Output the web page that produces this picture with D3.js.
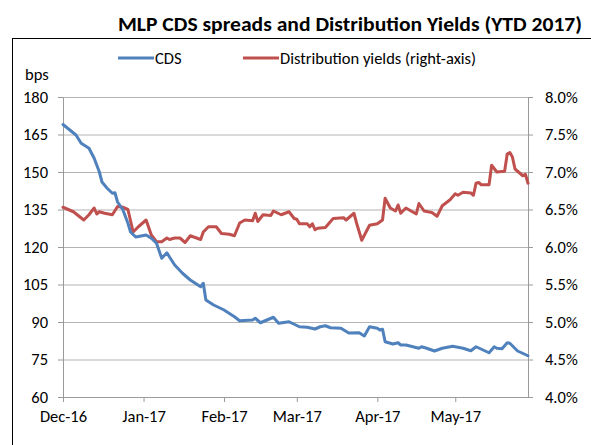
<!DOCTYPE html>
<html>
<head>
<meta charset="utf-8">
<script src="https://cdn.jsdelivr.net/npm/d3@7"></script>
<style>
  body { margin: 0; background: #fff; }
  svg { display: block; }
  text { font-family: Calibri, Carlito, Lato, sans-serif; fill: #000; }
</style>
</head>
<body>
<svg id="chart" width="591" height="445"></svg>
<script>
// MLP CDS spreads (bps, left axis)
const cdsDates = [
  "2016-12-01","2016-12-06","2016-12-08","2016-12-11","2016-12-13","2016-12-15","2016-12-16",
  "2016-12-18","2016-12-20","2016-12-21","2016-12-22","2016-12-24","2016-12-26","2016-12-27",
  "2016-12-29","2017-01-02","2017-01-04","2017-01-06","2017-01-08","2017-01-10","2017-01-11",
  "2017-01-13","2017-01-16","2017-01-19","2017-01-23","2017-01-24","2017-01-25","2017-01-28",
  "2017-02-01","2017-02-05","2017-02-07","2017-02-12","2017-02-13","2017-02-15","2017-02-20",
  "2017-02-22","2017-02-26","2017-03-02","2017-03-05","2017-03-08","2017-03-10","2017-03-12",
  "2017-03-14","2017-03-18","2017-03-21","2017-03-25","2017-03-27","2017-03-29","2017-04-01",
  "2017-04-02","2017-04-03","2017-04-04","2017-04-07","2017-04-09","2017-04-10","2017-04-12",
  "2017-04-17","2017-04-18","2017-04-20","2017-04-23","2017-04-26","2017-04-30","2017-05-02",
  "2017-05-04","2017-05-07","2017-05-09","2017-05-14","2017-05-16","2017-05-17","2017-05-19",
  "2017-05-21","2017-05-22","2017-05-25","2017-05-29"
];
const cdsValues = [
  169, 164.8, 161.5, 159.5, 155.5, 150, 146,
  143.5, 141.5, 141.7, 138, 135, 129.5, 126,
  124, 124.8, 123.5, 121.5, 115.5, 117.7, 116,
  112.8, 109.5, 106.8, 104.1, 105.5, 98.8, 96.8,
  94.8, 92.1, 90.5, 90.8, 91.5, 89.7, 91.9,
  89.5, 90.1, 88.1, 87.9, 87.2, 88.1, 88.5,
  87.7, 87.5, 85.6, 85.7, 84.4, 88.1, 87.5,
  86.8, 87.1, 82.1, 81.2, 81.7, 80.8, 80.8,
  79.5, 80.1, 79.5, 78.4, 79.5, 80.3, 79.9,
  79.5, 78.5, 80.1, 77.7, 80.1, 79.5, 79.3,
  81.7, 81.5, 78.4, 76.5
];

// Distribution yields (%, right axis)
const yieldDates = [
  "2016-12-01","2016-12-05","2016-12-09","2016-12-11","2016-12-13","2016-12-14","2016-12-15",
  "2016-12-17","2016-12-20","2016-12-22","2016-12-24","2016-12-26","2016-12-28","2016-12-30",
  "2017-01-02","2017-01-04","2017-01-06","2017-01-08","2017-01-10","2017-01-11","2017-01-13",
  "2017-01-15","2017-01-17","2017-01-19","2017-01-23","2017-01-24","2017-01-26","2017-01-29",
  "2017-01-31","2017-02-03","2017-02-05","2017-02-07","2017-02-09","2017-02-12","2017-02-13",
  "2017-02-14","2017-02-16","2017-02-19","2017-02-20","2017-02-23","2017-02-26","2017-02-28",
  "2017-03-01","2017-03-02","2017-03-05","2017-03-06","2017-03-07","2017-03-08","2017-03-09",
  "2017-03-12","2017-03-15","2017-03-19","2017-03-20","2017-03-23","2017-03-24","2017-03-26",
  "2017-03-29","2017-04-01","2017-04-03","2017-04-04","2017-04-06","2017-04-08","2017-04-09",
  "2017-04-10","2017-04-12","2017-04-15","2017-04-16","2017-04-17","2017-04-19","2017-04-22",
  "2017-04-24","2017-04-26","2017-04-29","2017-05-01","2017-05-02","2017-05-04","2017-05-07",
  "2017-05-08","2017-05-09","2017-05-10","2017-05-11","2017-05-14","2017-05-15","2017-05-17",
  "2017-05-20","2017-05-21","2017-05-22","2017-05-23","2017-05-24","2017-05-27","2017-05-28",
  "2017-05-29"
];
const yieldValues = [
  6.53, 6.47, 6.36, 6.43, 6.52, 6.44, 6.47,
  6.45, 6.43, 6.54, 6.53, 6.50, 6.20, 6.27,
  6.36, 6.16, 6.07, 6.07, 6.12, 6.10, 6.12,
  6.12, 6.06, 6.15, 6.10, 6.20, 6.27, 6.27,
  6.18, 6.17, 6.15, 6.32, 6.36, 6.35, 6.45,
  6.34, 6.43, 6.42, 6.48, 6.43, 6.47, 6.38,
  6.37, 6.31, 6.31, 6.27, 6.31, 6.23, 6.25,
  6.26, 6.38, 6.39, 6.36, 6.45, 6.32, 6.09,
  6.29, 6.31, 6.36, 6.65, 6.52, 6.48, 6.56,
  6.45, 6.52, 6.46, 6.44, 6.58, 6.48, 6.46,
  6.41, 6.55, 6.63, 6.71, 6.69, 6.73, 6.72,
  6.69, 6.85, 6.86, 6.83, 6.83, 7.09, 7.00,
  7.01, 7.24, 7.26, 7.20, 7.04, 6.95, 6.97,
  6.85
];

const leftTicks = [60, 75, 90, 105, 120, 135, 150, 165, 180];
const rightTicks = [4.0, 4.5, 5.0, 5.5, 6.0, 6.5, 7.0, 7.5, 8.0];
const monthTicks = ["2016-12-01","2017-01-01","2017-02-01","2017-03-01","2017-04-01","2017-05-01"];

const parse = d3.timeParse("%Y-%m-%d");
const svg = d3.select("#chart");

const plot = { left: 63, right: 528, top: 97, bottom: 397 };
const fontSize = 16.5;
const fontFamily = "Calibri, Carlito, Lato, sans-serif";

const x = d3.scaleTime()
  .domain([parse("2016-12-01"), parse("2017-05-29")])
  .range([plot.left, plot.right]);
const yLeft = d3.scaleLinear().domain([60, 180]).range([plot.bottom, plot.top]);
const yRight = d3.scaleLinear().domain([4, 8]).range([plot.bottom, plot.top]);

const gridColor = "#b4b4b4";
const axisColor = "#9a9a9a";

// outer frame
svg.append("rect")
  .attr("x", 12.5).attr("y", 38.5)
  .attr("width", 640).attr("height", 460)
  .attr("fill", "none").attr("stroke", "#000").attr("stroke-width", 1);

// title
svg.append("text")
  .attr("x", 350).attr("y", 31)
  .attr("text-anchor", "middle")
  .attr("font-size", 20).attr("font-weight", "bold")
  .attr("textLength", 464).attr("lengthAdjust", "spacingAndGlyphs")
  .text("MLP CDS spreads and Distribution Yields (YTD 2017)");

// horizontal gridlines
svg.append("g")
  .attr("transform", `translate(${plot.left},0)`)
  .call(d3.axisLeft(yLeft).tickValues(leftTicks).tickSize(-(plot.right - plot.left)).tickFormat(""))
  .call(g => g.select(".domain").remove())
  .call(g => g.selectAll("line").attr("stroke", gridColor).attr("stroke-width", 1.2));

function styleAxis(g) {
  g.select(".domain").attr("stroke", axisColor);
  g.selectAll(".tick line").attr("stroke", axisColor);
  g.selectAll(".tick text").attr("font-size", fontSize).attr("fill", "#000")
    .style("font-family", fontFamily);
}

// left axis
svg.append("g")
  .attr("transform", `translate(${plot.left},0)`)
  .call(d3.axisLeft(yLeft).tickValues(leftTicks).tickSize(5).tickSizeOuter(0).tickPadding(10))
  .call(styleAxis);

// right axis
svg.append("g")
  .attr("transform", `translate(${plot.right},0)`)
  .call(d3.axisRight(yRight).tickValues(rightTicks).tickSize(5).tickSizeOuter(0).tickPadding(12)
    .tickFormat(d => d.toFixed(1) + "%"))
  .call(styleAxis);

// bottom axis
svg.append("g")
  .attr("transform", `translate(0,${plot.bottom})`)
  .call(d3.axisBottom(x).tickValues(monthTicks.map(parse)).tickSize(5).tickSizeOuter(0).tickPadding(8)
    .tickFormat(d3.timeFormat("%b-%y")))
  .call(styleAxis);

// unit label
svg.append("text").attr("x", 25).attr("y", 80).attr("font-size", fontSize).text("bps");

// series
const cdsData = cdsDates.map((d, i) => ({ date: parse(d), value: cdsValues[i] }));
const yieldData = yieldDates.map((d, i) => ({ date: parse(d), value: yieldValues[i] }));

svg.append("path")
  .datum(yieldData)
  .attr("fill", "none").attr("stroke", "#c0504d").attr("stroke-width", 3)
  .attr("stroke-linejoin", "round").attr("stroke-linecap", "round")
  .attr("d", d3.line().x(d => x(d.date)).y(d => yRight(d.value)));

svg.append("path")
  .datum(cdsData)
  .attr("fill", "none").attr("stroke", "#4f81bd").attr("stroke-width", 3)
  .attr("stroke-linejoin", "round").attr("stroke-linecap", "round")
  .attr("d", d3.line().x(d => x(d.date)).y(d => yLeft(d.value)));

// legend
const legendItems = [
  { label: "CDS", color: "#4f81bd", x: 118 },
  { label: "Distribution yields (right-axis)", color: "#c0504d", x: 243 }
];
const lg = svg.append("g");
legendItems.forEach(item => {
  lg.append("line")
    .attr("x1", item.x).attr("x2", item.x + 36)
    .attr("y1", 58).attr("y2", 58)
    .attr("stroke", item.color).attr("stroke-width", 3);
  lg.append("text")
    .attr("x", item.x + 37).attr("y", 64)
    .attr("font-size", fontSize)
    .text(item.label);
});
</script>
</body>
</html>
